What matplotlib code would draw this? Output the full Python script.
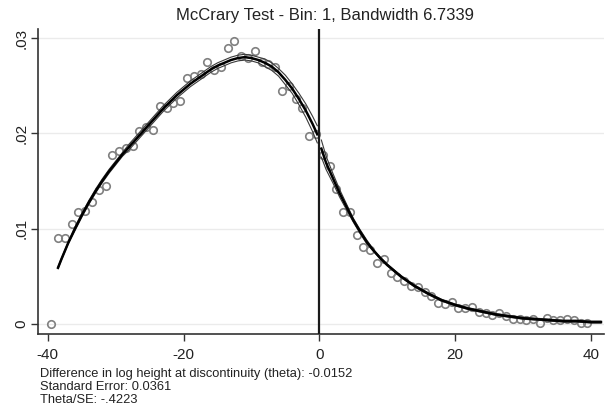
import numpy as np
import matplotlib
matplotlib.use("Agg")
import matplotlib.pyplot as plt

plt.rcParams['font.family'] = ['Liberation Sans', 'DejaVu Sans']
plt.rcParams['axes.unicode_minus'] = False

# binned density, left of cutoff
x_left = np.arange(-39.5, 0, 1.0)
y_left = [0.0000, 0.0090, 0.0090, 0.0105, 0.0118, 0.0119, 0.0128, 0.0141,
          0.0145, 0.0177, 0.0182, 0.0185, 0.0187, 0.0203, 0.0207, 0.0204,
          0.0229, 0.0227, 0.0232, 0.0234, 0.0258, 0.0260, 0.0262, 0.0275,
          0.0267, 0.0270, 0.0290, 0.0297, 0.0281, 0.0279, 0.0286, 0.0275,
          0.0273, 0.0270, 0.0244, 0.0250, 0.0236, 0.0227, 0.0197, 0.0199]

# binned density, right of cutoff
x_right = np.arange(0.5, 40, 1.0)
y_right = [0.0177, 0.0166, 0.0142, 0.0118, 0.0118, 0.0093, 0.0081, 0.0078,
           0.0064, 0.0068, 0.0053, 0.0049, 0.0045, 0.0040, 0.0039, 0.0034,
           0.0029, 0.0022, 0.0021, 0.0023, 0.0017, 0.0017, 0.0018, 0.0013,
           0.0011, 0.0009, 0.0011, 0.0008, 0.0005, 0.0005, 0.0004, 0.0005,
           0.0001, 0.0006, 0.0004, 0.0004, 0.0005, 0.0004, 0.0001, 0.0001]

# local linear fit and CI half widths
fx_left = [-38.5, -38, -37, -36, -35, -34, -33, -32, -31, -30, -29, -28,
           -27, -26, -25, -24, -23, -22, -21, -20, -19, -18, -17, -16, -15,
           -14, -13, -12, -11, -10, -9, -8, -7, -6, -5, -4, -3, -2, -1, -0.3]
fy_left = [0.0059, 0.0068, 0.0085, 0.0100, 0.0114, 0.0127, 0.0139, 0.0150,
           0.0160, 0.0169, 0.0178, 0.0186, 0.0194, 0.0202, 0.0210, 0.0218,
           0.0226, 0.0233, 0.0240, 0.0246, 0.0252, 0.0257, 0.0262, 0.0267,
           0.0271, 0.0274, 0.0277, 0.0279, 0.0280, 0.0279, 0.0277, 0.0274,
           0.0270, 0.0264, 0.0256, 0.0247, 0.0236, 0.0224, 0.0210, 0.0199]
ci_left = [0.0001, 0.0001, 0.0001, 0.0002, 0.0002, 0.0002, 0.0002, 0.0002,
           0.0002, 0.0002, 0.0002, 0.0003, 0.0003, 0.0003, 0.0003, 0.0003,
           0.0003, 0.0003, 0.0003, 0.0003, 0.0003, 0.0003, 0.0003, 0.0003,
           0.0003, 0.0003, 0.0003, 0.0003, 0.0003, 0.0003, 0.0003, 0.0004,
           0.0004, 0.0004, 0.0005, 0.0005, 0.0006, 0.0007, 0.0008, 0.0009]

fx_right = [0.3, 1, 2, 3, 4, 5, 6, 7, 8, 9, 10, 12, 14, 16, 18, 20, 22, 24,
            26, 28, 30, 32, 34, 36, 38, 40, 41.5]
fy_right = [0.0184, 0.0169, 0.0153, 0.0137, 0.0123, 0.0109, 0.0097, 0.0086,
            0.0077, 0.0069, 0.0062, 0.0050, 0.0040, 0.0032, 0.0025, 0.0020,
            0.0016, 0.0013, 0.0010, 0.0008, 0.0006, 0.0005, 0.0004, 0.0003,
            0.0003, 0.0002, 0.0002]
ci_right = [0.0009, 0.0007, 0.0005, 0.0004, 0.0003, 0.0002, 0.0002, 0.0002,
            0.0001, 0.0001, 0.0001, 0.0001, 0.0001, 0.0001, 0.0001, 0.0001,
            0.0001, 0.0001, 0.0001, 0.0001, 0.0001, 0.0001, 0.0001, 0.0001,
            0.0001, 0.0001, 0.0001]

fig = plt.figure(figsize=(6.09, 4.08), dpi=100)
ax = fig.add_axes([0.0624, 0.1814, 0.93, 0.7475])

ax.set_xlim(-41.45, 42.0)
ax.set_ylim(-0.00105, 0.03095)

for fx, fy, ci in [(fx_left, fy_left, ci_left), (fx_right, fy_right, ci_right)]:
    fx = np.array(fx)
    fy = np.array(fy)
    ci = np.array(ci)
    ax.plot(fx, fy + ci, color='#3a3a3a', lw=0.8, zorder=3)
    ax.plot(fx, fy - ci, color='#3a3a3a', lw=0.8, zorder=3)
    ax.plot(fx, fy, color='black', lw=1.8, zorder=4)

ax.plot(x_left, y_left, 'o', ms=5.4, mfc='none', mec='#808080', mew=1.2, zorder=2)
ax.plot(x_right, y_right, 'o', ms=5.4, mfc='none', mec='#808080', mew=1.2, zorder=2)

ax.axvline(0, color='#1a1a1a', lw=1.6, zorder=5)

ax.set_xticks([-40, -20, 0, 20, 40])
ax.set_yticks([0, 0.01, 0.02, 0.03])
ax.set_yticklabels(['0', '.01', '.02', '.03'], rotation=90, va='center')
ax.tick_params(axis='both', labelsize=11, length=5, width=1, color='#333333',
               labelcolor='#222222', pad=5)
ax.tick_params(axis='y', pad=2)
ax.grid(axis='y', color='#ebebeb', lw=1)
ax.set_axisbelow(True)
for s in ['top', 'right']:
    ax.spines[s].set_visible(False)
for s in ['left', 'bottom']:
    ax.spines[s].set_color('#333333')
    ax.spines[s].set_linewidth(1.2)

fig.text(0.534, 0.962, "McCrary Test - Bin: 1, Bandwidth 6.7339", ha='center',
         va='center', fontsize=12, color='#222222')

fig.text(0.066, 0.097, "Difference in log height at discontinuity (theta): -0.0152\n"
         "Standard Error: 0.0361\nTheta/SE: -.4223", ha='left', va='top',
         fontsize=9.3, linespacing=1.08, color='#222222')

fig.savefig("out.png", dpi=100)
